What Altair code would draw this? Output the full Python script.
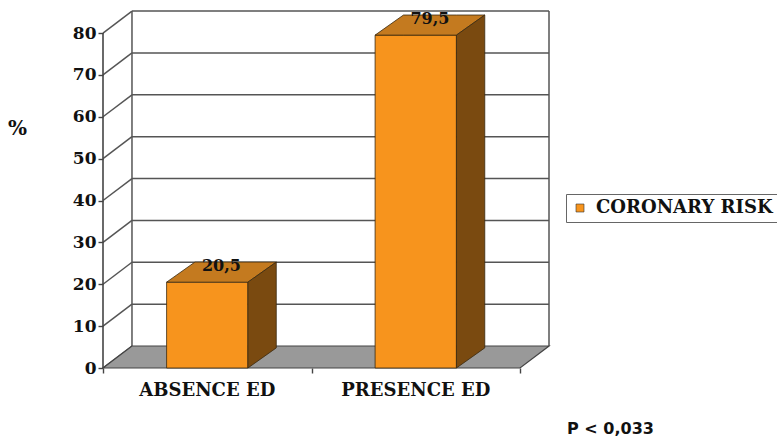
import altair as alt
import pandas as pd

# ---- data ----
categories = ["ABSENCE ED", "PRESENCE ED"]
values = [20.5, 79.5]
series_name = "CORONARY RISK"
y_ticks = [0, 10, 20, 30, 40, 50, 60, 70, 80]
note = "P < 0,033"

# ---- style constants (3D look) ----
WDX, WDY = 0.139, 5.25     # wall depth (x units, y units)
BDX, BDY = 0.136, 4.8      # bar depth
HALF = 0.195               # half bar width
N = len(categories)
XMAX = N + WDX
YMAX = 85.5
TOPV = max(y_ticks)

ORANGE = "#F7941D"
TOPC = "#C47A1F"
SIDEC = "#7A4A10"
FLOORC = "#999999"
GRID = "#555555"
EDGE = "#3A2A10"

xs = alt.Scale(domain=[0, XMAX], nice=False, zero=False)
ys = alt.Scale(domain=[0, YMAX], nice=False, zero=False)

# ---- tables built from the arrays ----
front = pd.DataFrame({
    "cat": categories,
    "value": values,
    "x": [i + 0.5 - HALF for i in range(N)],
    "x2": [i + 0.5 + HALF for i in range(N)],
    "y0": [0.0] * N,
    "series": [series_name] * N,
    "label": [f"{v:.1f}".replace(".", ",") for v in values],
    "lx": [i + 0.5 + BDX / 2 for i in range(N)],
    "ly": [v + BDY / 2 for v in values],
    "cx": [i + 0.5 for i in range(N)],
})

top_rows, side_rows = [], []
for i, v in enumerate(values):
    xl, xr = i + 0.5 - HALF, i + 0.5 + HALF
    top_rows += [
        {"bar": i, "x": xl, "lo": v, "hi": v},
        {"bar": i, "x": xl + BDX, "lo": v, "hi": v + BDY},
        {"bar": i, "x": xr, "lo": v, "hi": v + BDY},
        {"bar": i, "x": xr + BDX, "lo": v + BDY, "hi": v + BDY},
    ]
    side_rows += [
        {"bar": i, "x": xr, "lo": 0.0, "hi": v},
        {"bar": i, "x": xr + BDX, "lo": BDY, "hi": v + BDY},
    ]
top = pd.DataFrame(top_rows)
side = pd.DataFrame(side_rows)

floor = pd.DataFrame([
    {"x": 0.0, "lo": 0.0, "hi": 0.0},
    {"x": WDX, "lo": 0.0, "hi": WDY},
    {"x": float(N), "lo": 0.0, "hi": WDY},
    {"x": N + WDX, "lo": WDY, "hi": WDY},
])

grid_rows = []
for t in y_ticks:
    if t > 0:
        grid_rows.append({"x": WDX, "x2": N + WDX, "y": t + WDY, "y2": t + WDY})
    grid_rows.append({"x": 0.0, "x2": WDX, "y": float(t), "y2": t + WDY})
grid_rows.append({"x": WDX, "x2": WDX, "y": WDY, "y2": TOPV + WDY})
grid_rows.append({"x": N + WDX, "x2": N + WDX, "y": WDY, "y2": TOPV + WDY})
grid = pd.DataFrame(grid_rows)

front_axis = pd.DataFrame([{"x": 0.0, "y": 0.0, "y2": float(TOPV)}])

x_axis = alt.Axis(
    orient="bottom",
    values=[0, 1, 2], labels=False, domain=False, grid=False,
    ticks=True, tickSize=5, tickColor="#444444", tickWidth=1.4,
    title=note, titleFont="DejaVu Sans", titleFontWeight="bold",
    titleFontSize=16, titleColor="#111111",
    titleX=507, titleY=60, titleAlign="center", titleBaseline="middle",
)
y_axis = alt.Axis(
    orient="left",
    values=y_ticks, domain=False, grid=False, ticks=True, tickSize=5,
    tickColor="#444444", tickWidth=1.4,
    labelFont="DejaVu Serif", labelFontWeight="bold", labelFontSize=17,
    labelColor="#111111", labelPadding=2,
    title="%", titleAngle=0, titleFont="DejaVu Serif",
    titleFontWeight="bold", titleFontSize=20, titleColor="#111111",
    titleX=-86, titleY=118, titleAlign="center", titleBaseline="middle",
)

# ---- layers ----
grid_layer = alt.Chart(grid).mark_rule(color=GRID, strokeWidth=1.5).encode(
    x=alt.X("x:Q", scale=xs, axis=x_axis),
    x2="x2:Q",
    y=alt.Y("y:Q", scale=ys, axis=y_axis),
    y2="y2:Q",
)

floor_layer = alt.Chart(floor).mark_area(
    color=FLOORC, stroke="#444444", strokeWidth=1.2, interpolate="linear"
).encode(
    x=alt.X("x:Q", scale=xs, axis=None),
    y=alt.Y("lo:Q", scale=ys, axis=None),
    y2="hi:Q",
)

axis_layer = alt.Chart(front_axis).mark_rule(color="#444444", strokeWidth=1.6).encode(
    x=alt.X("x:Q", scale=xs, axis=None),
    y=alt.Y("y:Q", scale=ys, axis=None),
    y2="y2:Q",
)

front_layer = alt.Chart(front).mark_rect(stroke=EDGE, strokeWidth=0.8).encode(
    x=alt.X("x:Q", scale=xs, axis=None),
    x2="x2:Q",
    y=alt.Y("y0:Q", scale=ys, axis=None),
    y2="value:Q",
    color=alt.Color(
        "series:N",
        scale=alt.Scale(domain=[series_name], range=[ORANGE]),
        legend=alt.Legend(
            title=None, orient="none", legendX=463, legendY=184,
            strokeColor="#666666", fillColor="white", padding=5,
            symbolType="square", symbolSize=64, symbolStrokeColor="#333333",
            symbolStrokeWidth=0.6, labelFont="DejaVu Serif",
            labelFontWeight="bold", labelFontSize=18, labelColor="#111111",
            labelOffset=7, labelLimit=400,
        ),
    ),
)

top_layer = alt.Chart(top).mark_area(
    color=TOPC, stroke=EDGE, strokeWidth=0.8, interpolate="linear"
).encode(
    x=alt.X("x:Q", scale=xs, axis=None),
    y=alt.Y("lo:Q", scale=ys, axis=None),
    y2="hi:Q",
    detail="bar:N",
)

side_layer = alt.Chart(side).mark_area(
    color=SIDEC, stroke=EDGE, strokeWidth=0.8, interpolate="linear"
).encode(
    x=alt.X("x:Q", scale=xs, axis=None),
    y=alt.Y("lo:Q", scale=ys, axis=None),
    y2="hi:Q",
    detail="bar:N",
)

value_text = alt.Chart(front).mark_text(
    font="DejaVu Serif", fontWeight="bold", fontSize=16, color="#111111",
    baseline="middle", align="center", dy=-6,
).encode(
    x=alt.X("lx:Q", scale=xs, axis=None),
    y=alt.Y("ly:Q", scale=ys, axis=None),
    text="label:N",
)

cat_text = alt.Chart(front).mark_text(
    font="DejaVu Serif", fontWeight="bold", fontSize=18, color="#111111",
    baseline="middle", align="center", dy=23,
).encode(
    x=alt.X("cx:Q", scale=xs, axis=None),
    y=alt.Y("y0:Q", scale=ys, axis=None),
    text="cat:N",
)

chart = alt.layer(
    grid_layer, floor_layer, axis_layer, front_layer, top_layer, side_layer,
    value_text, cat_text,
).resolve_axis(
    x="independent", y="independent"
).properties(
    width=446, height=358,
    autosize=alt.AutoSizeParams(type="none"),
    padding={"left": 103, "top": 10, "right": 228, "bottom": 74},
    background="white",
).configure_view(stroke=None)

chart.save("out.html", embed_options={"renderer": "svg", "actions": False})
